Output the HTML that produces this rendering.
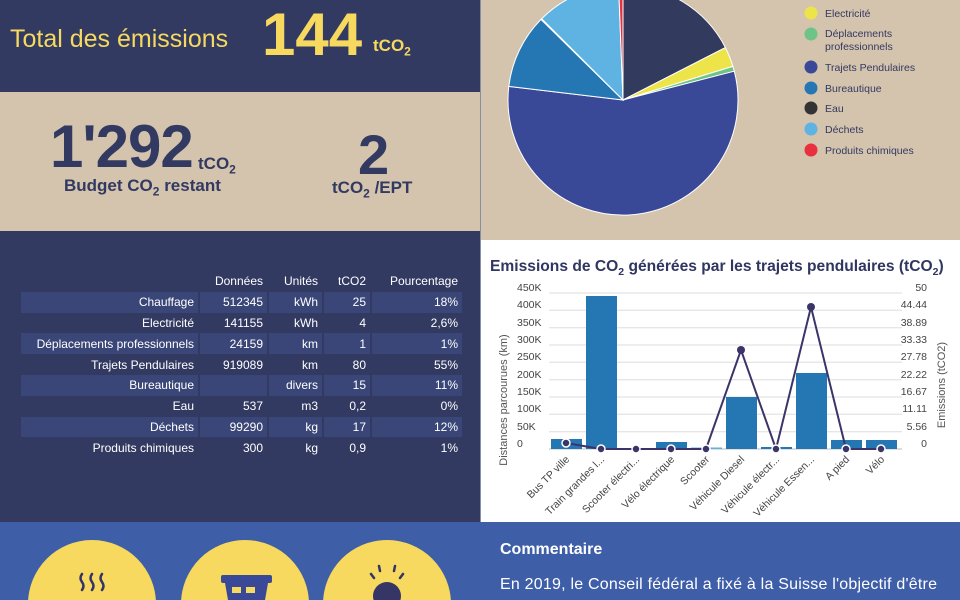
<!DOCTYPE html>
<html><head><meta charset="utf-8"><style>
*{margin:0;padding:0;box-sizing:border-box}
html,body{width:960px;height:600px;overflow:hidden}
body{position:relative;font-family:"Liberation Sans",sans-serif;background:#3f5ea8}
.abs{position:absolute}
.navy{background:#323a62}
.beige{background:#d4c3ad}
table{border-collapse:separate;border-spacing:2px 0;color:#fff;font-size:12px}
td{text-align:right;height:20.8px;padding:0 4px}
tr.b td{background:#3a4677}
</style></head><body>
<div class="abs navy" style="left:0;top:0;width:480px;height:92px"></div>
<div class="abs beige" style="left:0;top:92px;width:480px;height:139px"></div>
<div class="abs navy" style="left:0;top:231px;width:480px;height:291px"></div>
<div class="abs beige" style="left:481px;top:0;width:479px;height:240px"></div>
<div class="abs" style="left:481px;top:240px;width:479px;height:282px;background:#fff"></div>
<div class="abs" style="left:480px;top:0;width:1px;height:522px;background:#8a8fa8"></div>

<div class="abs" style="left:10px;top:25px;color:#f6d95e;font-size:25px">Total des émissions</div>
<div class="abs" style="left:262px;top:0px;color:#f6d95e;font-size:60px;font-weight:bold">144</div>
<div class="abs" style="left:373px;top:36px;color:#f6d95e;font-size:17px;font-weight:bold">tCO<sub style="font-size:12px">2</sub></div>

<div class="abs" style="left:50px;top:112px;color:#323a62;font-size:60px;font-weight:bold;letter-spacing:-1px">1'292</div>
<div class="abs" style="left:198px;top:154px;color:#323a62;font-size:17px;font-weight:bold">tCO<sub style="font-size:12px">2</sub></div>
<div class="abs" style="left:64px;top:176px;color:#323a62;font-size:17px;font-weight:bold">Budget CO<sub style="font-size:12px">2</sub> restant</div>
<div class="abs" style="left:358px;top:122px;color:#323a62;font-size:56px;font-weight:bold">2</div>
<div class="abs" style="left:332px;top:178px;color:#323a62;font-size:17px;font-weight:bold">tCO<sub style="font-size:12px">2</sub> /EPT</div>

<table class="abs" style="left:19px;top:271px">
<tr><td style="width:177px"></td><td style="width:67px">Données</td><td style="width:53px">Unités</td><td style="width:46px">tCO2</td><td style="width:90px">Pourcentage</td></tr>
<tr class="b"><td>Chauffage</td><td>512345</td><td>kWh</td><td>25</td><td>18%</td></tr>
<tr><td>Electricité</td><td>141155</td><td>kWh</td><td>4</td><td>2,6%</td></tr>
<tr class="b"><td>Déplacements professionnels</td><td>24159</td><td>km</td><td>1</td><td>1%</td></tr>
<tr><td>Trajets Pendulaires</td><td>919089</td><td>km</td><td>80</td><td>55%</td></tr>
<tr class="b"><td>Bureautique</td><td></td><td>divers</td><td>15</td><td>11%</td></tr>
<tr><td>Eau</td><td>537</td><td>m3</td><td>0,2</td><td>0%</td></tr>
<tr class="b"><td>Déchets</td><td>99290</td><td>kg</td><td>17</td><td>12%</td></tr>
<tr><td>Produits chimiques</td><td>300</td><td>kg</td><td>0,9</td><td>1%</td></tr>
</table>

<svg class="abs" style="left:0;top:0" width="960" height="600">
<g stroke="#fff" stroke-width="1">
<path d="M623,100 L623,-15 A115,115 0 0 1 725.4,47.6Z" fill="#323a5e"/>
<path d="M623,100 L725.4,47.6 A115,115 0 0 1 732.9,66.4Z" fill="#ede44a"/>
<path d="M623,100 L732.9,66.4 A115,115 0 0 1 734.3,71.2Z" fill="#6ec486"/>
<path d="M623,100 L734.3,71.2 A115,115 0 1 1 508.8,86.4Z" fill="#3a4898"/>
<path d="M623,100 L508.8,86.4 A115,115 0 0 1 541.0,19.4Z" fill="#2577b4"/>
<path d="M623,100 L541.0,19.4 A115,115 0 0 1 541.7,18.7Z" fill="#333"/>
<path d="M623,100 L541.7,18.7 A115,115 0 0 1 618.6,-14.9Z" fill="#5eb3e3"/>
<path d="M623,100 L618.6,-14.9 A115,115 0 0 1 623,-15Z" fill="#e8303f"/>
</g>
<g font-size="10.5" fill="#323a62">
<circle cx="811" cy="13" r="6.5" fill="#ede44a"/><text x="825" y="17">Electricité</text>
<circle cx="811" cy="34" r="6.5" fill="#6ec486"/><text x="825" y="37">Déplacements</text><text x="825" y="50">professionnels</text>
<circle cx="811" cy="67" r="6.5" fill="#3a4898"/><text x="825" y="71">Trajets Pendulaires</text>
<circle cx="811" cy="88" r="6.5" fill="#2577b4"/><text x="825" y="92">Bureautique</text>
<circle cx="811" cy="108" r="6.5" fill="#333"/><text x="825" y="112">Eau</text>
<circle cx="811" cy="129" r="6.5" fill="#5eb3e3"/><text x="825" y="133">Déchets</text>
<circle cx="811" cy="150" r="6.5" fill="#e8303f"/><text x="825" y="154">Produits chimiques</text>
</g>

<text x="490" y="271" font-size="15.6" font-weight="bold" fill="#2f3661">Emissions de CO<tspan font-size="10.5" dy="4">2</tspan><tspan dy="-4"> générées par les trajets pendulaires (tCO</tspan><tspan font-size="10.5" dy="4">2</tspan><tspan dy="-4">)</tspan></text>
<g stroke="#ddd" stroke-width="1">
<line x1="549" x2="902" y1="293" y2="293"/><line x1="549" x2="902" y1="310.3" y2="310.3"/><line x1="549" x2="902" y1="327.7" y2="327.7"/><line x1="549" x2="902" y1="345" y2="345"/><line x1="549" x2="902" y1="362.3" y2="362.3"/><line x1="549" x2="902" y1="379.7" y2="379.7"/><line x1="549" x2="902" y1="397" y2="397"/><line x1="549" x2="902" y1="414.3" y2="414.3"/><line x1="549" x2="902" y1="431.7" y2="431.7"/><line x1="549" x2="902" y1="449" y2="449" stroke="#bbb"/>
</g>
<g font-size="10.5" fill="#444" text-anchor="start">
<text x="517" y="291">450K</text><text x="517" y="308">400K</text><text x="517" y="326">350K</text><text x="517" y="343">300K</text><text x="517" y="360">250K</text><text x="517" y="378">200K</text><text x="517" y="395">150K</text><text x="517" y="412">100K</text><text x="517" y="430">50K</text><text x="517" y="447">0</text>
</g>
<g font-size="10.5" fill="#444" text-anchor="end">
<text x="927" y="291">50</text><text x="927" y="308">44.44</text><text x="927" y="326">38.89</text><text x="927" y="343">33.33</text><text x="927" y="360">27.78</text><text x="927" y="378">22.22</text><text x="927" y="395">16.67</text><text x="927" y="412">11.11</text><text x="927" y="430">5.56</text><text x="927" y="447">0</text>
</g>
<text transform="translate(507,400) rotate(-90)" text-anchor="middle" font-size="11" fill="#555">Distances parcourues (km)</text>
<text transform="translate(945,385) rotate(-90)" text-anchor="middle" font-size="11" fill="#555">Emissions (tCO2)</text>
<g fill="#2577b4">
<rect x="551" y="439" width="31" height="10"/>
<rect x="586" y="296" width="31" height="153"/>
<rect x="656" y="442" width="31" height="7"/>
<rect x="691" y="447.5" width="31" height="1.5" fill="#5eb3e3"/>
<rect x="726" y="397" width="31" height="52"/>
<rect x="761" y="447" width="31" height="2"/>
<rect x="796" y="373" width="31" height="76"/>
<rect x="831" y="440" width="31" height="9"/>
<rect x="866" y="440" width="31" height="9"/>
</g>
<polyline fill="none" stroke="#3b3469" stroke-width="2" points="566,443 601,449 636,449 671,449 706,449 741,350 776,449 811,307 846,449 881,449"/>
<g fill="#3b3469" stroke="#fff" stroke-width="1.5">
<circle cx="566" cy="443" r="4"/><circle cx="601" cy="449" r="4"/><circle cx="636" cy="449" r="4"/><circle cx="671" cy="449" r="4"/><circle cx="706" cy="449" r="4"/><circle cx="741" cy="350" r="4" stroke="none"/><circle cx="776" cy="449" r="4"/><circle cx="811" cy="307" r="4" stroke="none"/><circle cx="846" cy="449" r="4"/><circle cx="881" cy="449" r="4"/>
</g>
<g font-size="10.5" fill="#444" text-anchor="end">
<text transform="translate(570,460) rotate(-45)">Bus TP ville</text>
<text transform="translate(605,460) rotate(-45)">Train grandes l...</text>
<text transform="translate(640,460) rotate(-45)">Scooter électri...</text>
<text transform="translate(675,460) rotate(-45)">Vélo électrique</text>
<text transform="translate(710,460) rotate(-45)">Scooter</text>
<text transform="translate(745,460) rotate(-45)">Véhicule Diesel</text>
<text transform="translate(780,460) rotate(-45)">Véhicule électr...</text>
<text transform="translate(815,460) rotate(-45)">Véhicule Essen...</text>
<text transform="translate(850,460) rotate(-45)">A pied</text>
<text transform="translate(885,460) rotate(-45)">Vélo</text>
</g>

<circle cx="92" cy="604" r="64" fill="#f6d95e"/>
<circle cx="245" cy="604" r="64" fill="#f6d95e"/>
<circle cx="387" cy="604" r="64" fill="#f6d95e"/>
<g stroke="#33336a" stroke-width="2.5" fill="none" stroke-linecap="round">
<path d="M82,574 q-3,4 0,8 q3,4 0,8"/><path d="M92,574 q-3,4 0,8 q3,4 0,8"/><path d="M102,574 q-3,4 0,8 q3,4 0,8"/>
<line x1="371" y1="574" x2="374" y2="578"/><line x1="379" y1="566" x2="380" y2="571"/><line x1="395" y1="566" x2="394" y2="571"/><line x1="403" y1="574" x2="400" y2="578"/>
</g>
<rect x="221" y="575" width="51" height="8" rx="2" fill="#3a4898"/>
<path d="M225,583 h43 l-3,17 h-37z" fill="#3a4898"/>
<rect x="232" y="587" width="9" height="6" fill="#f6d95e"/><rect x="246" y="587" width="9" height="6" fill="#f6d95e"/>
<circle cx="387" cy="596" r="14" fill="#363666"/>
<text x="500" y="554" font-size="16" font-weight="bold" fill="#fff">Commentaire</text>
<text x="500" y="589" font-size="16" fill="#fff" textLength="437" lengthAdjust="spacing">En 2019, le Conseil fédéral a fixé à la Suisse l'objectif d'être</text>
</svg>
</body></html>
